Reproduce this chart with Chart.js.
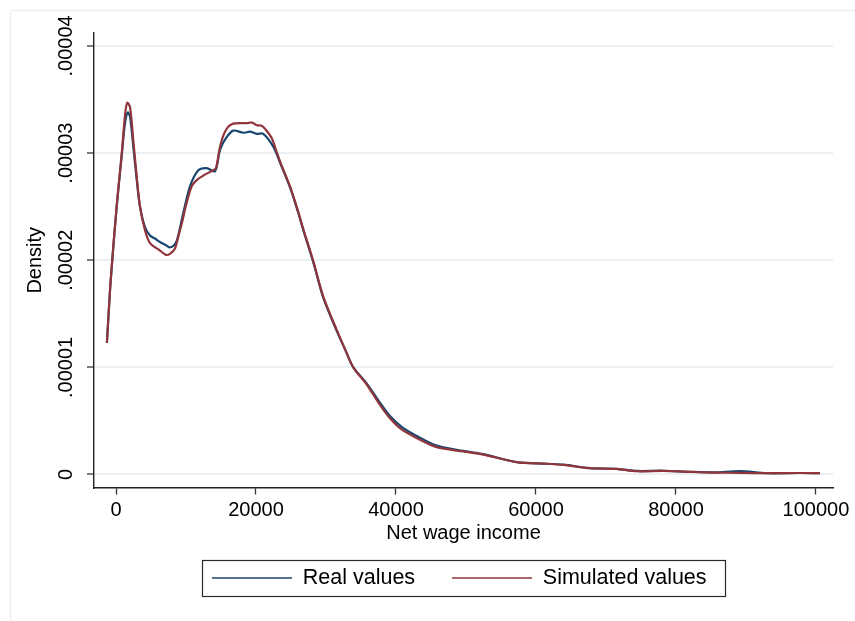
<!DOCTYPE html>
<html>
<head>
<meta charset="utf-8">
<script src="https://cdn.jsdelivr.net/npm/chart.js@4.4.1/dist/chart.umd.min.js"></script>
<style>
html,body{margin:0;padding:0;background:#ffffff;}
#wrap{width:855px;height:621px;}
</style>
</head>
<body>
<div id="wrap"><canvas id="c" width="855" height="621"></canvas></div>
<script>
// ---- Data ----
const seriesNames = ['Real values', 'Simulated values'];

const incomeReal = [-1300, -760, 100, 810, 1290, 1670, 2000, 2470, 2960, 3430, 4140, 4860, 5600, 6290, 7140, 7710, 8290, 8670, 9140, 9610, 10570, 11760, 12960, 14140, 14860, 15710, 16760, 18190, 19140, 20100, 21040, 22470, 23500, 24860, 26000, 26760, 28190, 29610, 31530, 32710, 33900, 35810, 37710, 39140, 40810, 42960, 45810, 49610, 52470, 57240, 61530, 63900, 67710, 71530, 74390, 78190, 82000, 85500, 89140, 92960, 97710, 100570];
const densityReal = [1.23e-5, 1.81e-5, 2.50e-5, 2.97e-5, 3.28e-5, 3.38e-5, 3.34e-5, 3.06e-5, 2.75e-5, 2.50e-5, 2.31e-5, 2.23e-5, 2.20e-5, 2.17e-5, 2.14e-5, 2.12e-5, 2.14e-5, 2.18e-5, 2.30e-5, 2.44e-5, 2.69e-5, 2.84e-5, 2.86e-5, 2.83e-5, 3.03e-5, 3.14e-5, 3.21e-5, 3.19e-5, 3.20e-5, 3.18e-5, 3.18e-5, 3.06e-5, 2.90e-5, 2.68e-5, 2.45e-5, 2.28e-5, 1.98e-5, 1.65e-5, 1.34e-5, 1.17e-5, 1.00e-5, 8.5e-6, 6.7e-6, 5.45e-6, 4.45e-6, 3.6e-6, 2.7e-6, 2.2e-6, 1.9e-6, 1.15e-6, 1.0e-6, 9.2e-7, 6.0e-7, 5.3e-7, 3.3e-7, 3.5e-7, 2.5e-7, 2.0e-7, 3.1e-7, 1.2e-7, 1.4e-7, 1.2e-7];

const incomeSim = [-1300, -760, 100, 810, 1290, 1610, 2000, 2470, 2960, 3430, 4140, 4860, 6290, 7140, 7710, 8430, 8860, 9390, 10000, 10810, 11570, 12470, 13900, 14290, 14860, 15570, 16530, 18670, 19430, 20100, 20810, 21430, 22240, 22960, 23500, 24860, 26000, 26760, 28190, 29610, 31530, 32710, 33900, 35810, 37710, 39140, 40810, 42960, 45810, 49610, 52470, 57240, 61530, 63900, 67710, 71530, 74390, 78190, 82000, 85500, 89140, 92960, 97710, 100570];
const densitySim = [1.23e-5, 1.81e-5, 2.51e-5, 2.99e-5, 3.36e-5, 3.47e-5, 3.43e-5, 3.12e-5, 2.78e-5, 2.50e-5, 2.28e-5, 2.16e-5, 2.09e-5, 2.05e-5, 2.06e-5, 2.11e-5, 2.21e-5, 2.34e-5, 2.51e-5, 2.69e-5, 2.75e-5, 2.79e-5, 2.84e-5, 2.86e-5, 3.06e-5, 3.20e-5, 3.27e-5, 3.28e-5, 3.285e-5, 3.26e-5, 3.255e-5, 3.215e-5, 3.14e-5, 3.01e-5, 2.91e-5, 2.69e-5, 2.46e-5, 2.29e-5, 1.99e-5, 1.66e-5, 1.35e-5, 1.17e-5, 1.00e-5, 8.4e-6, 6.5e-6, 5.25e-6, 4.2e-6, 3.4e-6, 2.55e-6, 2.15e-6, 1.85e-6, 1.15e-6, 1.0e-6, 9.0e-7, 5.8e-7, 5.2e-7, 3.0e-7, 3.4e-7, 2.4e-7, 1.8e-7, 1.5e-7, 1.2e-7, 1.4e-7, 1.2e-7];

const xTickValues = [0, 20000, 40000, 60000, 80000, 100000];
const xTickLabels = ['0', '20000', '40000', '60000', '80000', '100000'];
const yTickValues = [0, 0.00001, 0.00002, 0.00003, 0.00004];
const yTickLabels = ['0', '.00001', '.00002', '.00003', '.00004'];
const xTitle = 'Net wage income';
const yTitle = 'Density';

// ---- Chart ----
const FONT = '"Liberation Sans", Arial, Helvetica, sans-serif';
const BLUE = '#1a476f';
const RED = '#90353b';

function toPoints(xs, ys) { return xs.map((x, i) => ({ x: x, y: ys[i] })); }

const pagePlugin = {
  id: 'pageBg',
  beforeDraw(chart) {
    const ctx = chart.ctx;
    ctx.save();
    ctx.fillStyle = '#ffffff';
    ctx.fillRect(0, 0, chart.width, chart.height);
    ctx.strokeStyle = '#eaf0f3';
    ctx.lineWidth = 1.5;
    ctx.beginPath();
    ctx.moveTo(10.5, chart.height);
    ctx.lineTo(10.5, 10.5);
    ctx.lineTo(chart.width, 10.5);
    ctx.stroke();
    ctx.restore();
  }
};

const legendPlace = {
  id: 'legendPlace',
  afterLayout(chart) {
    const lg = chart.legend;
    if (!lg || !lg.lineWidths) return;
    const pad = lg.options.labels.padding;
    const start = (lg.left + pad + lg.right - lg.lineWidths[0]) / 2;
    const dx = 212 - start;
    lg.left += dx; lg.right += dx;
    const fs = lg.options.labels.font.size;
    const newTop = 578 - fs / 2 - pad;
    const h = lg.height;
    lg.top = newTop; lg.bottom = newTop + h;
  },
  afterDraw(chart) {
    const lg = chart.legend;
    if (!lg || !lg.legendHitBoxes || !lg.legendHitBoxes.length) return;
    const hb = lg.legendHitBoxes;
    const first = hb[0], last = hb[hb.length - 1];
    const fs = lg.options.labels.font.size;
    const cy = first.top + fs / 2;
    const x0 = first.left - 10, x1 = last.left + last.width + 18;
    const ctx = chart.ctx;
    ctx.save();
    ctx.strokeStyle = '#2a2a2a';
    ctx.lineWidth = 1.2;
    ctx.strokeRect(Math.round(x0) + 0.5, Math.round(cy - 18) + 0.5, Math.round(x1 - x0), 36);
    ctx.restore();
  }
};

const defaultGen = Chart.defaults.plugins.legend.labels.generateLabels;

new Chart(document.getElementById('c'), {
  type: 'line',
  data: {
    datasets: [
      {
        label: seriesNames[0],
        data: toPoints(incomeReal, densityReal),
        borderColor: BLUE,
        backgroundColor: BLUE,
        borderWidth: 2.2,
        pointRadius: 0,
        tension: 0.3,
        fill: false,
        order: 1
      },
      {
        label: seriesNames[1],
        data: toPoints(incomeSim, densitySim),
        borderColor: RED,
        backgroundColor: RED,
        borderWidth: 2.2,
        pointRadius: 0,
        tension: 0.3,
        fill: false,
        order: 0
      }
    ]
  },
  options: {
    responsive: false,
    animation: false,
    devicePixelRatio: 1,
    layout: { padding: { left: 10, right: 22, top: 33, bottom: 5 } },
    plugins: {
      tooltip: { enabled: false },
      legend: {
        display: true,
        position: 'bottom',
        fullSize: false,
        labels: {
          font: { family: FONT, size: 21.5 },
          color: '#000000',
          usePointStyle: true,
          pointStyle: 'line',
          pointStyleWidth: 80,
          boxHeight: 21.5,
          padding: 37,
          generateLabels(chart) {
            const items = defaultGen(chart);
            items.forEach(it => { it.lineWidth = 1.4; it.pointStyle = 'line'; });
            items.sort((a, b) => a.datasetIndex - b.datasetIndex);
            return items;
          }
        }
      }
    },
    scales: {
      x: {
        type: 'linear',
        min: -3143,
        max: 102430,
        afterBuildTicks(scale) { scale.ticks = xTickValues.map(v => ({ value: v })); },
        afterFit(scale) { scale.height = 60; },
        ticks: {
          autoSkip: false,
          maxRotation: 0,
          minRotation: 0,
          padding: 4,
          color: '#000000',
          font: { family: FONT, size: 20 },
          callback(value) { const i = xTickValues.indexOf(value); return i >= 0 ? xTickLabels[i] : ''; }
        },
        grid: { display: true, drawOnChartArea: false, drawTicks: true, tickLength: 7, tickColor: '#333333', tickWidth: 1.3 },
        border: { display: true, color: '#222222', width: 1.4 },
        title: { display: true, text: xTitle, color: '#000000', font: { family: FONT, size: 20 }, padding: { top: 0, bottom: 2 } }
      },
      y: {
        type: 'linear',
        min: -1.215e-6,
        max: 4.121e-5,
        afterBuildTicks(scale) { scale.ticks = yTickValues.map(v => ({ value: v })); },
        afterFit(scale) { scale.width = 84; },
        ticks: {
          autoSkip: false,
          minRotation: 90,
          maxRotation: 90,
          crossAlign: 'center',
          padding: -10,
          color: '#000000',
          font: { family: FONT, size: 20 },
          callback(value) {
            let idx = -1;
            yTickValues.forEach((v, i) => { if (Math.abs(v - value) < 1e-9) idx = i; });
            return idx >= 0 ? yTickLabels[idx] : '';
          }
        },
        grid: { display: true, drawOnChartArea: true, color: '#eaf0f3', lineWidth: 2, drawTicks: true, tickLength: 7, tickColor: '#333333', tickWidth: 1.3 },
        border: { display: true, color: '#222222', width: 1.4 },
        title: { display: true, text: yTitle, color: '#000000', font: { family: FONT, size: 20 }, padding: { top: 13, bottom: 0 } }
      }
    }
  },
  plugins: [pagePlugin, legendPlace]
});
</script>
</body>
</html>
